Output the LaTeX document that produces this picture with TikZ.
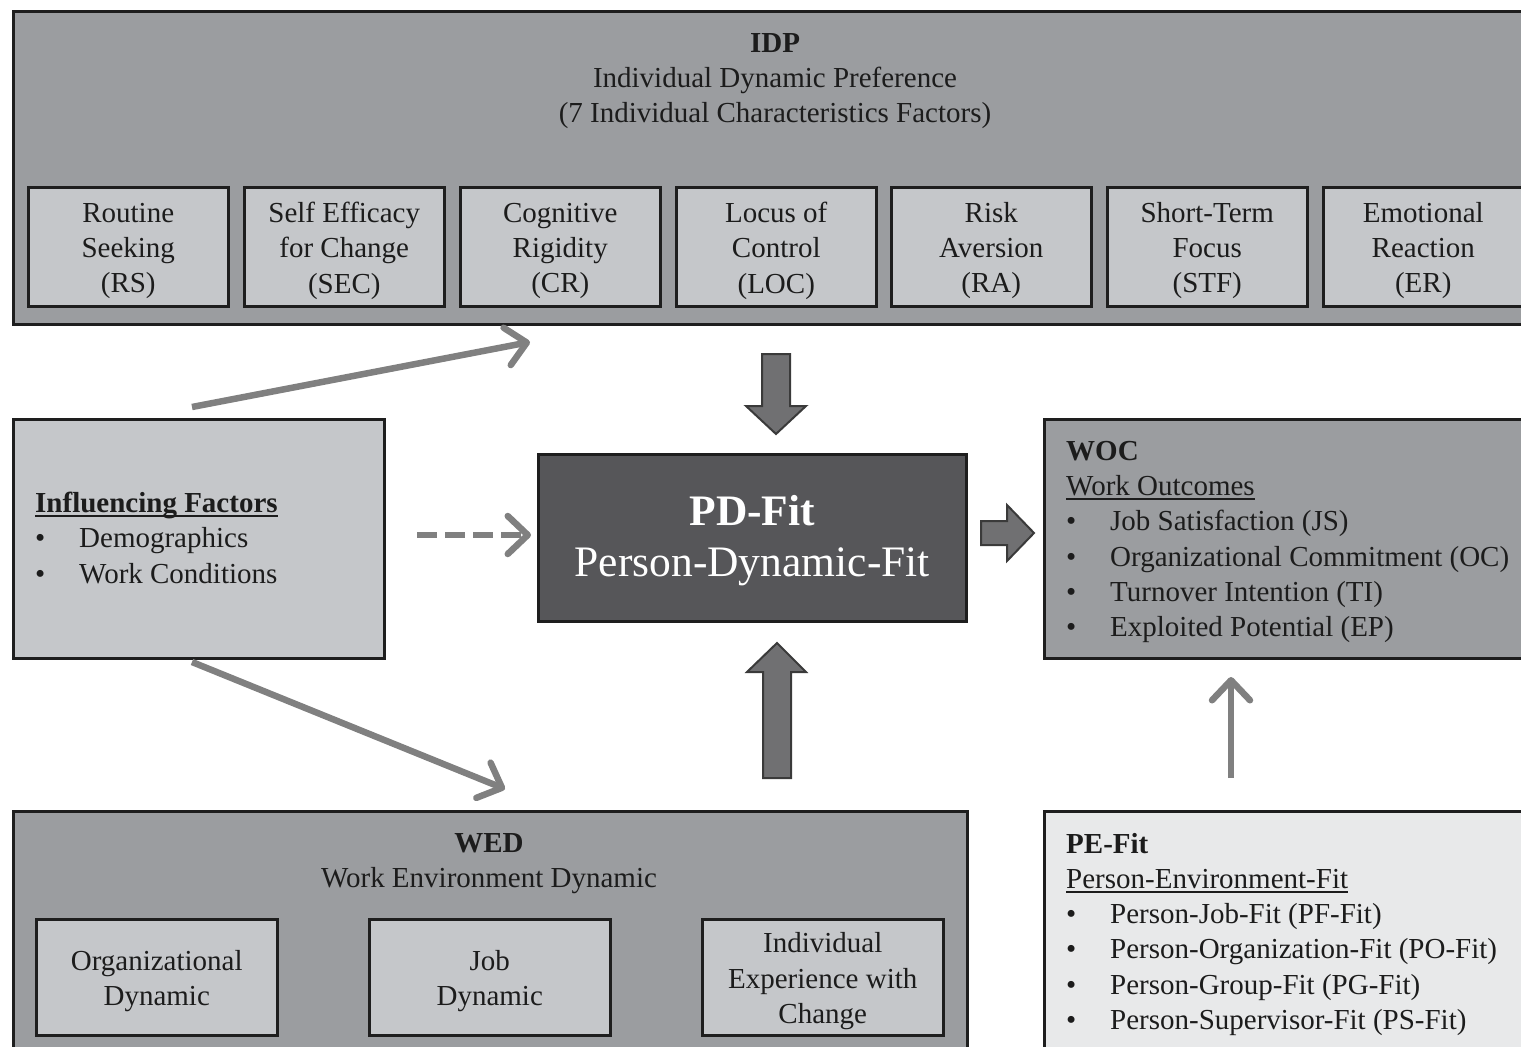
\documentclass[tikz,border=0pt]{standalone}
\usepackage{fontspec}
\setmainfont{Liberation Serif}
\usetikzlibrary{arrows.meta}

\definecolor{panelgray}{RGB}{155,157,160}
\definecolor{cellgray}{RGB}{197,199,202}
\definecolor{coregray}{RGB}{86,86,89}
\definecolor{palegray}{RGB}{232,233,234}
\definecolor{linkgray}{RGB}{128,128,128}
\definecolor{blockfill}{RGB}{112,112,114}
\definecolor{blockedge}{RGB}{58,58,58}
\definecolor{ink}{RGB}{28,28,28}
\definecolor{frame}{RGB}{30,30,30}

\newcommand\bodysize{\fontsize{29}{35.2}\selectfont}
\newcommand\coresize{\fontsize{43.5}{51}\selectfont}
\newcommand\bul{\makebox[44pt][l]{\textbullet}}
% underline with a heavier rule set a little below the baseline
\newcommand\heading[1]{\setbox0\hbox{#1}\rlap{\rule[-4.5pt]{\wd0}{1.8pt}}\box0}

\tikzset{
  panel/.style={draw=frame, line width=2.5pt, fill=panelgray, inner sep=0pt, anchor=north west},
  idpcell/.style={panel, fill=cellgray, minimum width=200pt, minimum height=119pt},
  wedcell/.style={panel, fill=cellgray, minimum width=241pt, minimum height=116pt},
  celltext/.style={text=ink, font=\bodysize, align=center, inner sep=0pt},
  title/.style={text=ink, font=\bodysize, align=center, inner sep=0pt, anchor=north},
  listtext/.style={text=ink, font=\bodysize, align=left, inner sep=0pt, anchor=north west},
  linkarrow/.style={draw=linkgray, line width=6.5pt, -{Straight Barb[length=20pt,width=38pt,round]}},
  block/.style={fill=blockfill, draw=blockedge, line width=2pt, line join=miter}
}

\begin{document}
\begin{tikzpicture}[x=1pt,y=-1pt]
\clip (0,0) rectangle (1521,1047);

% Individual dynamic preference panel with its seven factors
\node[panel, minimum width=1526pt, minimum height=313pt] (idp) at (12,10) {};
\node[title] (idp-title) at (775,33) {\textbf{IDP}\\Individual Dynamic Preference\\(7 Individual Characteristics Factors)};
\node[idpcell] (rs)  at (27,186)   {};
\node[idpcell] (sec) at (243,186)  {};
\node[idpcell] (cr)  at (459,186)  {};
\node[idpcell] (loc) at (675,186)  {};
\node[idpcell] (ra)  at (890,186)  {};
\node[idpcell] (stf) at (1106,186) {};
\node[idpcell] (er)  at (1322,186) {};
\node[celltext] (rs-t)  at ([yshift=-4pt]rs.center)  {Routine\\Seeking\\(RS)};
\node[celltext] (sec-t) at ([yshift=-4pt]sec.center) {Self Efficacy\\for Change\\(SEC)};
\node[celltext] (cr-t)  at ([yshift=-4pt]cr.center)  {Cognitive\\Rigidity\\(CR)};
\node[celltext] (loc-t) at ([yshift=-4pt]loc.center) {Locus of\\Control\\(LOC)};
\node[celltext] (ra-t)  at ([yshift=-4pt]ra.center)  {Risk\\Aversion\\(RA)};
\node[celltext] (stf-t) at ([yshift=-4pt]stf.center) {Short-Term\\Focus\\(STF)};
\node[celltext] (er-t)  at ([yshift=-4pt]er.center)  {Emotional\\Reaction\\(ER)};

% Influencing factors
\node[panel, fill=cellgray, minimum width=371pt, minimum height=239pt] (inf) at (12,418) {};
\node[listtext] (inf-text) at (35,492) {\heading{\textbf{Influencing Factors}}\\\bul Demographics\\\bul Work Conditions};

% Central person-dynamic fit
\node[panel, fill=coregray, minimum width=428pt, minimum height=167pt] (pd) at (537,453) {};
\node[celltext, text=white, font=\coresize] (pd-t) at ([yshift=-3pt]pd.center)
      {\textbf{PD-Fit}\\Person-Dynamic-Fit};

% Work outcomes
\node[panel, minimum width=495pt, minimum height=239pt] (woc) at (1043,418) {};
\node[listtext] (woc-text) at (1066,441) {\textbf{WOC}\\\heading{Work Outcomes}\\\bul Job Satisfaction (JS)\\\bul Organizational Commitment (OC)\\\bul Turnover Intention (TI)\\\bul Exploited Potential (EP)};

% Work environment dynamic panel
\node[panel, minimum width=954pt, minimum height=260pt] (wed) at (12,810) {};
\node[title] (wed-title) at (489,833) {\textbf{WED}\\Work Environment Dynamic};
\node[wedcell] (org) at (35,918)  {};
\node[wedcell] (job) at (368,918) {};
\node[wedcell] (iec) at (701,918) {};
\node[celltext] (org-t) at ([yshift=-4pt]org.center) {Organizational\\Dynamic};
\node[celltext] (job-t) at ([yshift=-4pt]job.center) {Job\\Dynamic};
\node[celltext] (iec-t) at ([yshift=-4pt]iec.center) {Individual\\Experience with\\Change};

% Person-environment fit
\node[panel, fill=palegray, minimum width=495pt, minimum height=260pt] (pe) at (1043,810) {};
\node[listtext] (pe-text) at (1066,833) {\textbf{PE-Fit}\\\heading{Person-Environment-Fit}\\\bul Person-Job-Fit (PF-Fit)\\\bul Person-Organization-Fit (PO-Fit)\\\bul Person-Group-Fit (PG-Fit)\\\bul Person-Supervisor-Fit (PS-Fit)};

% Block arrows into and out of PD-Fit
\draw[block] (762,354) -- (790,354) -- (790,406) -- (806,406) -- (776,434)
             -- (746,406) -- (762,406) -- cycle;
\draw[block] (763,778) -- (791,778) -- (791,672) -- (806,672) -- (777,643)
             -- (747,672) -- (763,672) -- cycle;
\draw[block] (981,521) -- (1007,521) -- (1007,505) -- (1034,533) -- (1007,561)
             -- (1007,545) -- (981,545) -- cycle;

% Influence connectors
\coordinate (inf-up)    at (192,407);
\coordinate (idp-in)    at (530,342);
\coordinate (inf-right) at (417,535);
\coordinate (pd-in)     at (531,535);
\coordinate (inf-down)  at (192,662);
\coordinate (wed-in)    at (505,789);
\coordinate (pe-out)    at (1231,778);
\coordinate (woc-in)    at (1231,677);

\draw[linkarrow] (inf-up) -- (idp-in);
\draw[linkarrow, dash pattern=on 20pt off 8pt] (inf-right) -- (pd-in);
\draw[linkarrow] (inf-down) -- (wed-in);
\draw[linkarrow] (pe-out) -- (woc-in);
\end{tikzpicture}
\end{document}
